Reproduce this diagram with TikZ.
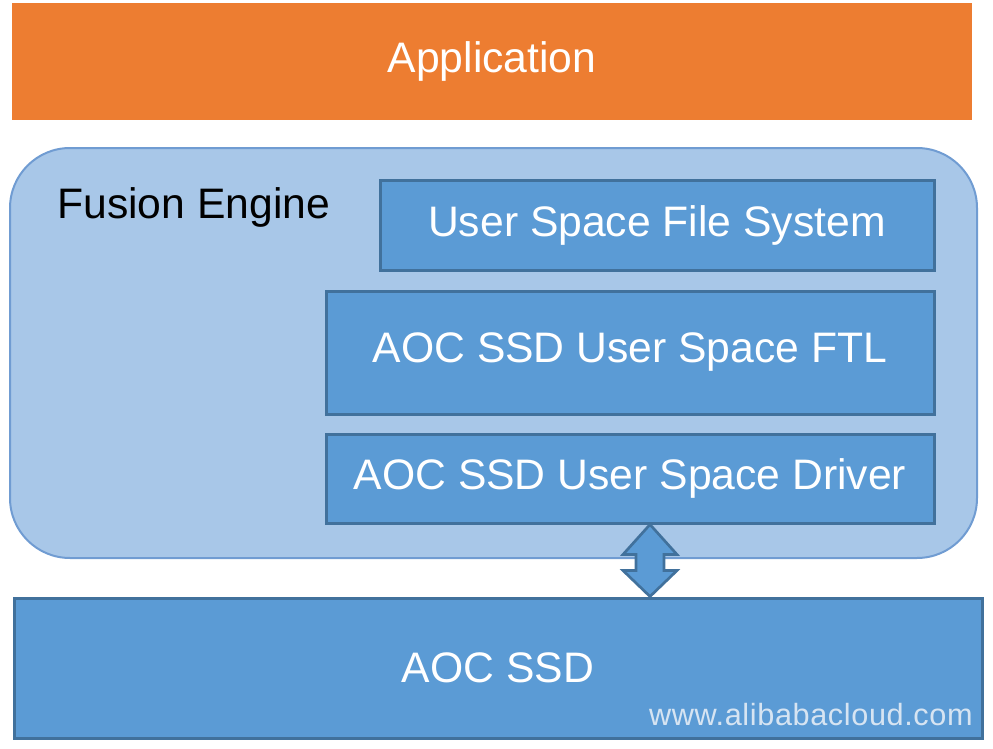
\documentclass[tikz,border=0pt]{standalone}
\usepackage{fontspec}
\setmainfont{Liberation Sans}
\usetikzlibrary{calc}

\definecolor{apporange}{RGB}{237,125,49}
\definecolor{boxblue}{RGB}{91,155,213}
\definecolor{boxedge}{RGB}{65,113,156}
\definecolor{enginefill}{RGB}{168,199,232}
\definecolor{engineedge}{RGB}{112,156,210}
\definecolor{markgray}{RGB}{214,228,242}

\tikzstyle{layer}=[rectangle, fill=boxblue, draw=boxedge, line width=2.25pt, text=white, font=\fontsize{32}{38}\selectfont, inner sep=0pt]

\begin{document}
\begin{tikzpicture}[x=0.75pt, y=-0.75pt]
\useasboundingbox (0,0) rectangle (993,749);

\node[fill=apporange, text=white, font=\fontsize{32}{38}\selectfont, minimum width=720pt, minimum height=87.75pt](app) at (492,61.5) {Application};

\node[rectangle, rounded corners=45pt, fill=enginefill, draw=engineedge, line width=1.5pt, minimum width=725.25pt, minimum height=307.5pt](engine) at (493.5,353) {};
\node[anchor=west, inner sep=0pt, font=\fontsize{32}{38}\selectfont](enginelabel) at (57,207) {Fusion Engine};

\node[layer, minimum width=415.5pt, minimum height=67.5pt](ufs) at (657,225) {User Space File System};
\node[layer, minimum width=456pt, minimum height=92.25pt](ftl) at (630,352.5) {AOC SSD User Space FTL};
\node[layer, minimum width=456pt, minimum height=66.75pt](drv) at (630,478.5) {AOC SSD User Space Driver};
\node[layer, minimum width=726pt, minimum height=105pt](ssd) at (498,668) {AOC SSD};

\node[anchor=base east, inner sep=0pt, text=markgray, font=\fontsize{23}{28}\selectfont\addfontfeatures{LetterSpace=2}](mark) at (973,725) {www.alibabacloud.com};

\coordinate (up) at (drv.south -| 650,0);
\coordinate (dn) at (ssd.north -| up);
\draw[fill=boxblue, draw=boxedge, line width=2pt, line join=miter] (up) -- ++(27,30) -- ++(-13,0) -- ($(dn)+(14,-26)$) -- ++(13,0) -- (dn) -- ++(-27,-26) -- ++(13,0) -- ($(up)+(-14,30)$) -- ++(-13,0) -- cycle;
\end{tikzpicture}
\end{document}
